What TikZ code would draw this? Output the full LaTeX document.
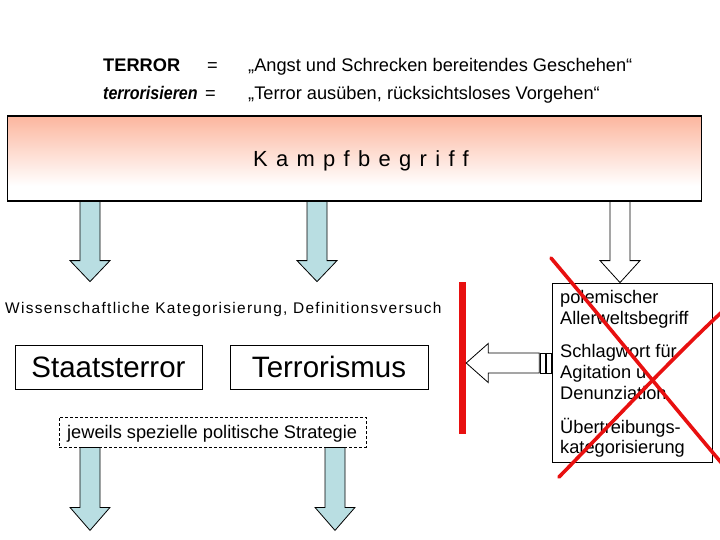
\documentclass[tikz,border=0pt]{standalone}
\usepackage{fontspec}
\setmainfont{Liberation Sans}
\definecolor{salmon}{RGB}{252,182,158}
\definecolor{arrowblue}{RGB}{185,222,226}
\definecolor{xred}{RGB}{232,16,16}
\pgfdeclareverticalshading{kampfshade}{100bp}{color(0bp)=(white); color(34bp)=(white); color(75bp)=(salmon); color(100bp)=(salmon)}
\tikzset{
  txt/.style={anchor=base west, inner sep=0pt, font=\fontsize{18.3}{21}\selectfont},
  plainbox/.style={draw=black, line width=0.9bp, inner sep=0pt},
  bigword/.style={font=\fontsize{29.6}{32}\selectfont},
  blockarrow/.style={draw=black, line width=0.8bp, fill=arrowblue, line join=miter},
  whitearrow/.style={draw=black, line width=0.8bp, fill=white, line join=miter},
  redx/.style={draw=xred, line width=3.6bp, line cap=round}
}
\begin{document}
\begin{tikzpicture}[x=1bp,y=-1bp]
\useasboundingbox (0,0) rectangle (720,540);
\clip (0,0) rectangle (720,540);

% top definitions
\node[txt] (t1) at (103,72) {\textbf{TERROR}};
\node[txt] (e1) at (207,72) {=};
\node[txt] (d1) at (248,72) {„Angst und Schrecken bereitendes Geschehen“};
\node[txt] (t2) at (103,100) {\scalebox{0.88}[1]{\textbf{\itshape terrorisieren}}};
\node[txt] (e2) at (205,100) {=};
\node[txt] (d2) at (248,100) {„Terror ausüben, rücksichtsloses Vorgehen“};

% Kampfbegriff box
\node[draw=black, line width=1.2bp, shading=kampfshade, minimum width=694bp, minimum height=85bp, inner sep=0pt] (kampf) at (354.5,158.5) {};
\node[anchor=base west, inner sep=0pt, font=\fontsize{22}{26}\selectfont\addfontfeatures{LetterSpace=38}] (kampftext) at (253,167) {Kampfbegriff};

% coordinates for the block arrows
\coordinate (a1) at (kampf.south -| 90,0);
\coordinate (a2) at (kampf.south -| 317,0);
\coordinate (a3) at (kampf.south -| 620,0);

% down arrows from Kampfbegriff
\path[blockarrow] (a1) ++(-10,0) -- ++(0,59) -- ++(-10,0) -- ++(20,21) -- ++(20,-21) -- ++(-10,0) -- ++(0,-59) -- cycle;
\path[blockarrow] (a2) ++(-10,0) -- ++(0,59) -- ++(-10,0) -- ++(20,21) -- ++(20,-21) -- ++(-10,0) -- ++(0,-59) -- cycle;
\path[whitearrow] (a3) ++(-10,0) -- ++(0,59) -- ++(-10,0) -- ++(20,22) -- ++(20,-22) -- ++(-10,0) -- ++(0,-59) -- cycle;

% scientific part
\node[anchor=base west, inner sep=0pt, font=\fontsize{15.5}{18}\selectfont\addfontfeatures{LetterSpace=8.5}] (wiss) at (5,313) {Wissenschaftliche Kategorisierung, Definitionsversuch};
\node[plainbox, bigword, minimum width=187bp, minimum height=44bp] (staat) at (108.5,367) {Staatsterror};
\node[plainbox, bigword, minimum width=198bp, minimum height=44bp] (terr) at (329,367) {Terrorismus};
\node[draw=black, line width=0.8bp, dashed, dash pattern=on 3bp off 2bp, minimum width=307bp, minimum height=30bp, inner sep=0pt] (strat) at (212.5,432) {};
\node[txt] (strattext) at (67,438) {jeweils spezielle politische Strategie};

% bottom arrows
\coordinate (b1) at (strat.south -| 90,0);
\coordinate (b2) at (strat.south -| 335,0);
\path[blockarrow] (b1) ++(-10,0) -- ++(0,60) -- ++(-10,0) -- ++(20,23) -- ++(20,-23) -- ++(-10,0) -- ++(0,-60) -- cycle;
\path[blockarrow] (b2) ++(-10,0) -- ++(0,60) -- ++(-10,0) -- ++(20,23) -- ++(20,-23) -- ++(-10,0) -- ++(0,-60) -- cycle;

% right box
\node[plainbox, minimum width=160bp, minimum height=179bp] (polem) at (632,372.5) {};
\node[txt] (p1) at (560,303) {polemischer};
\node[txt] (p2) at (560,324) {Allerweltsbegriff};
\node[txt] (p3) at (560,357) {Schlagwort für};
\node[txt] (p4) at (560,378) {Agitation u.};
\node[txt] (p5) at (560,399) {Denunziation};
\node[txt] (p6) at (560,433) {Übertreibungs-};
\node[txt] (p7) at (560,453) {kategorisierung};

% red bar
\node[fill=xred, minimum width=7bp, minimum height=152bp, inner sep=0pt] (bar) at (462.5,358) {};

% left-pointing striped arrow
\coordinate (la) at (polem.west |- 0,363);
\path[whitearrow] (bar.east |- la) -- ++(22,-19.5) -- ++(0,9.5) -- ++(51,0) -- ++(0,20) -- ++(-51,0) -- ++(0,9.5) -- cycle;
\draw[whitearrow] (la) ++(-11,-10) rectangle ++(5,20);
\draw[whitearrow] (la) ++(-5,-10) rectangle ++(5,20);

% red cross
\draw[redx] (551,258) .. controls (600,316) and (660,390) .. (724,466);
\draw[redx] (559,477) .. controls (610,425) and (670,360) .. (724,310);
\end{tikzpicture}
\end{document}
